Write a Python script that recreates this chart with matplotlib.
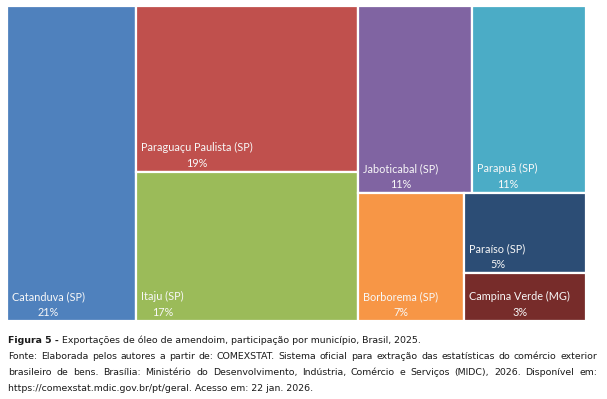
import matplotlib
matplotlib.use('Agg')
import matplotlib.pyplot as plt
from matplotlib.patches import Rectangle

names = ['Catanduva (SP)', 'Paraguaçu Paulista (SP)', 'Itaju (SP)', 'Jaboticabal (SP)',
         'Parapuã (SP)', 'Borborema (SP)', 'Paraíso (SP)', 'Campina Verde (MG)']
shares = [21, 19, 17, 11, 11, 7, 5, 3]
colors = ['#4F81BD', '#C0504D', '#9BBB59', '#8064A2', '#4BACC6', '#F79646', '#2C4D75', '#772C2A']

caption_bold = 'Figura 5 -'
caption_lines = [
    ' Exportações de óleo de amendoim, participação por município, Brasil, 2025.',
    'Fonte: Elaborada pelos autores a partir de: COMEXSTAT. Sistema oficial para extração das estatísticas do comércio exterior',
    'brasileiro de bens. Brasília: Ministério do Desenvolvimento, Indústria, Comércio e Serviços (MIDC), 2026. Disponível em:',
    'https://comexstat.mdic.gov.br/pt/geral. Acesso em: 22 jan. 2026.',
]
justified = [False, True, True, False]

# layout tree: 'h' = side by side, 'v' = stacked
layout = ('h', [0, ('v', [1, 2]), ('v', [('h', [3, 4]), ('h', [5, ('v', [6, 7])])])])


def total(node):
    return shares[node] if isinstance(node, int) else sum(total(c) for c in node[1])


def place(node, x, y, w, h, out):
    if isinstance(node, int):
        out[node] = (x, y, w, h)
        return
    d, ch = node
    T = total(node)
    pos = 0.0
    for c in ch:
        f = total(c) / T
        if d == 'h':
            place(c, x + pos * w, y, f * w, h, out)
        else:
            place(c, x, y + pos * h, w, f * h, out)
        pos += f


FW, FH = 607, 399
fig = plt.figure(figsize=(FW / 100, FH / 100), dpi=100)
x0, x1, y0, y1 = 7, 586, 6, 321
W, H = x1 - x0, y1 - y0
ax = fig.add_axes([x0 / FW, 1 - y1 / FH, W / FW, H / FH])
ax.set_xlim(0, W)
ax.set_ylim(H, 0)
ax.axis('off')

rects = {}
place(layout, 0, 0, W, H, rects)
for i, (x, y, w, h) in rects.items():
    ax.add_patch(Rectangle((x, y), w, h, facecolor=colors[i], edgecolor='white', linewidth=1.6))
    ax.text(x + 5, y + h - 3.5, f'{names[i]}\n{shares[i]}%', ha='left', va='bottom',
            multialignment='center', color='#F8F8F8', fontsize=7.8, family='Lato',
            linespacing=1.5)

renderer = fig.canvas.get_renderer()
cap_font = dict(family='DejaVu Sans', fontsize=6.75, color='#1a1a1a')
left_px, right_px = 8, 597
base0, step = 343, 16


def px2fig(px, py):
    return px / FW, 1 - py / FH


for li, line in enumerate(caption_lines):
    by = base0 + li * step
    xs = left_px
    if li == 0:
        t = fig.text(*px2fig(xs, by), caption_bold, va='baseline', ha='left',
                     fontweight='bold', **cap_font)
        xs = left_px + t.get_window_extent(renderer).width
    if justified[li]:
        words = line.split(' ')
        widths = []
        items = []
        for wd in words:
            t = fig.text(*px2fig(0, by), wd, va='baseline', ha='left', **cap_font)
            items.append(t)
            widths.append(t.get_window_extent(renderer).width)
        gap = (right_px - xs - sum(widths)) / (len(words) - 1)
        cx = xs
        for t, wdt in zip(items, widths):
            t.set_position(px2fig(cx, by))
            cx += wdt + gap
    else:
        fig.text(*px2fig(xs, by), line, va='baseline', ha='left', **cap_font)

fig.savefig('out.png', dpi=100, facecolor='white')
